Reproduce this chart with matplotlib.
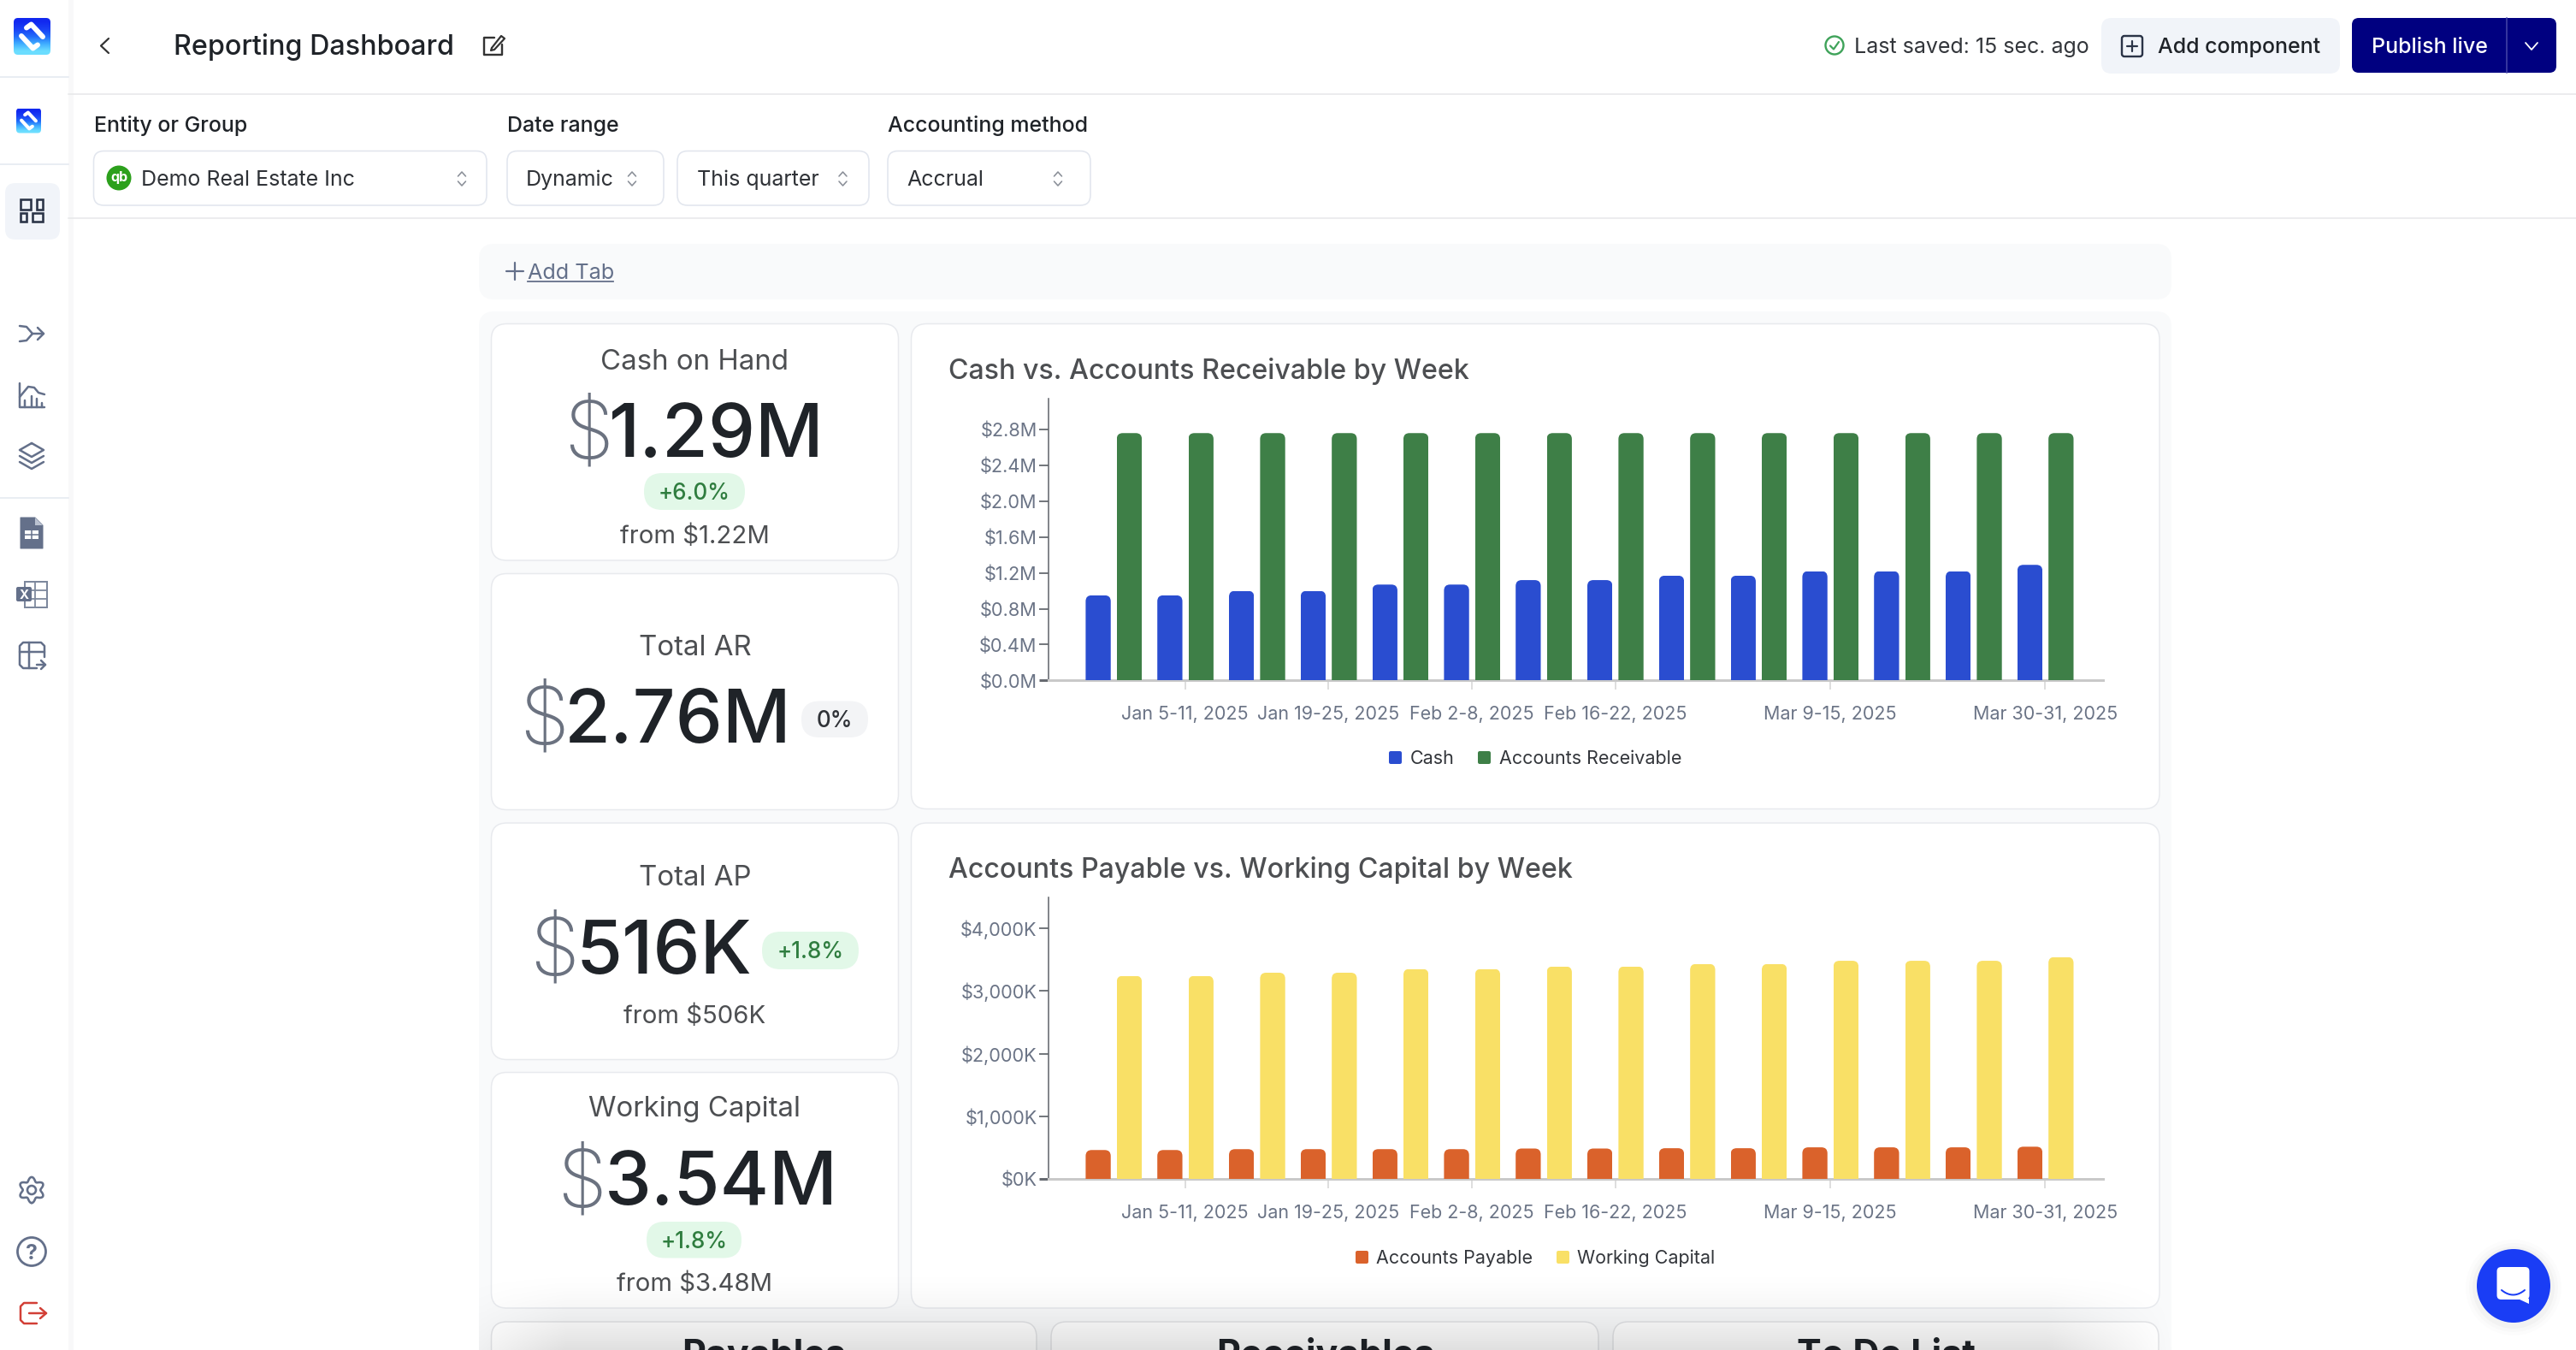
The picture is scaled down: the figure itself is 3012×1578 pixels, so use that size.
import numpy as np
import matplotlib
matplotlib.use('Agg')
import matplotlib.pyplot as plt
from matplotlib.lines import Line2D
from matplotlib.markers import MarkerStyle
from matplotlib.patches import Circle, FancyBboxPatch, Polygon, Rectangle
from matplotlib.path import Path

plt.rcParams['font.family'] = ['Inter', 'DejaVu Sans']

W, H = 3012, 1578

# weeks of the quarter, only some of them get a label on the chart
weeks = ['Dec 29-Jan 4, 2025', 'Jan 5-11, 2025', 'Jan 12-18, 2025', 'Jan 19-25, 2025',
         'Jan 26-Feb 1, 2025', 'Feb 2-8, 2025', 'Feb 9-15, 2025', 'Feb 16-22, 2025',
         'Feb 23-Mar 1, 2025', 'Mar 2-8, 2025', 'Mar 9-15, 2025', 'Mar 16-22, 2025',
         'Mar 23-29, 2025', 'Mar 30-31, 2025']
labelled_weeks = [1, 3, 5, 7, 10, 13]

cash = [0.95, 0.95, 1.00, 1.00, 1.07, 1.07, 1.12, 1.12, 1.17, 1.17, 1.22, 1.22, 1.22, 1.29]
receivable = [2.76] * 14
payable = [463, 463, 477, 477, 477, 477, 487, 487, 492, 492, 506, 506, 506, 516]
working_capital = [3240, 3240, 3290, 3290, 3350, 3350, 3390, 3390, 3430, 3430, 3480, 3480, 3480, 3540]

top_ticks = [0, 0.4, 0.8, 1.2, 1.6, 2.0, 2.4, 2.8]
top_tick_labels = ['$0.0M', '$0.4M', '$0.8M', '$1.2M', '$1.6M', '$2.0M', '$2.4M', '$2.8M']
low_ticks = [0, 1000, 2000, 3000, 4000]
low_tick_labels = ['$0K', '$1,000K', '$2,000K', '$3,000K', '$4,000K']

GREY_TEXT = '#4d4f52'
DARK = '#1f2328'
SLATE = '#64708a'
LABEL = '#6b7486'
BORDER = '#e8eaee'
UI = 25

fig = plt.figure(figsize=(W / 100, H / 100), dpi=100, facecolor='white')
page = fig.add_axes([0, 0, 1, 1], zorder=0)
page.set_xlim(0, W)
page.set_ylim(H, 0)
page.axis('off')


def pt(px):
    return px * 0.72


def box(x0, y0, x1, y1, r=14, fc='white', ec='none', lw=1.5, z=1):
    p = FancyBboxPatch((x0 + r, y0 + r), x1 - x0 - 2 * r, y1 - y0 - 2 * r,
                       boxstyle=f'round,pad={r},rounding_size={r}',
                       fc=fc, ec=ec, lw=pt(lw), zorder=z)
    page.add_patch(p)
    return p


def txt(x, yc, s, size, color=DARK, ha='left', weight='normal', z=5):
    # yc is the middle of the capitals, so the baseline is worked out from the size
    return page.text(x, yc + 0.364 * size, s, fontsize=pt(size), color=color, ha=ha,
                     va='baseline', fontweight=weight, zorder=z)


def stroke(pts, color=SLATE, lw=2.5, z=6):
    xs, ys = zip(*pts)
    page.add_line(Line2D(xs, ys, color=color, lw=pt(lw), solid_capstyle='round',
                         solid_joinstyle='round', zorder=z))


def updown(x, y=208):
    stroke([(x - 4.5, y - 2), (x, y - 7), (x + 4.5, y - 2)], color='#8a8f98', lw=1.6)
    stroke([(x - 4.5, y + 4), (x, y + 9), (x + 4.5, y + 4)], color='#8a8f98', lw=1.6)


# ---- page frame ----
page.add_patch(Rectangle((80, 0), 6, H, fc='#f8f8f9', ec='none', zorder=1))
page.add_line(Line2D([80, W], [110, 110], color='#e6e7e9', lw=pt(1.5), zorder=1))
page.add_line(Line2D([80, W], [255, 255], color='#e6e7e9', lw=pt(1.5), zorder=1))
for yy in [90, 192, 581.5]:
    page.add_line(Line2D([0, 80], [yy, yy], color='#e3e8f0', lw=pt(1.5), zorder=1))


def logo(cx, cy, half, r):
    grad = np.array([[0.07, 0.16, 0.94], [0.10, 0.25, 0.96], [0.13, 0.42, 0.98],
                     [0.25, 0.68, 1.0], [0.42, 0.87, 1.0]])[:, None, :]
    im = page.imshow(grad, extent=(cx - half, cx + half, cy + half, cy - half),
                     aspect='auto', interpolation='bilinear', zorder=2)
    clip = box(cx - half, cy - half, cx + half, cy + half, r=r, fc='none')
    im.set_clip_path(clip)
    k = half / 21.5
    a = [(-6.5, -10), (-1, -14), (12.5, 0.5)]
    b = [(-12.5, -0.5), (1, 14), (6.5, 10)]
    stroke([(cx + k * u, cy + k * v) for u, v in a], color='white', lw=6 * k, z=3)
    stroke([(cx + k * u, cy + k * v) for u, v in b], color='white', lw=6 * k, z=3)


logo(37.5, 42.5, 21.5, 5)
logo(33.5, 141, 14.5, 4)

# sidebar icons
box(6, 214, 70, 280, r=12, fc='#f1f4f9')
for x0, y0, x1, y1 in [(24, 233, 36, 245), (43, 233, 50, 245), (24, 249, 31, 259), (38, 249, 50, 259)]:
    page.add_patch(Rectangle((x0, y0), x1 - x0, y1 - y0, fc='none', ec='#2b3447', lw=pt(2.6), zorder=6))

stroke([(23, 381), (31, 382), (38, 390), (51, 390)])
stroke([(23, 399), (31, 398), (38, 390)])
stroke([(44, 383), (51, 390), (44, 397)])
stroke([(23, 448), (23, 476), (52, 476)])
stroke([(23, 464), (33, 452), (40, 453), (45, 459), (52, 461)])
for bx, by in [(29.5, 468), (37, 463), (43, 466), (49, 471)]:
    stroke([(bx, by), (bx, 476)])
stroke([(37, 518), (51, 526), (37, 534), (23, 526), (37, 518)])
stroke([(23, 533), (37, 541), (51, 533)])
stroke([(23, 540), (37, 548), (51, 540)])

page.add_patch(Polygon([(24, 605), (41, 605), (50, 614), (50, 641), (24, 641)], fc=SLATE, ec=SLATE,
                       lw=pt(1), joinstyle='round', zorder=6))
page.add_patch(Polygon([(41, 605), (50, 614), (41, 614)], fc='#b9c1d0', ec='none', zorder=7))
page.add_patch(Rectangle((29, 620), 16, 10, fc='white', ec='none', zorder=7))
stroke([(37, 620), (37, 630)], lw=1.5, z=8)
stroke([(29, 625), (45, 625)], lw=1.5, z=8)

page.add_patch(Rectangle((29, 680), 26, 30, fc='none', ec='#7d889d', lw=pt(2), zorder=6))
for gy in [690, 700]:
    stroke([(29, gy), (55, gy)], color='#7d889d', lw=1.8)
for gx in [41]:
    stroke([(gx, 680), (gx, 710)], color='#7d889d', lw=1.8)
box(19, 686, 37, 703, r=2, fc=SLATE, z=7)
txt(28, 694.5, 'X', 15, color='white', ha='center', weight='bold', z=8)

stroke([(43, 781), (27, 781), (23, 777), (23, 755), (27, 751), (48, 751), (52, 755), (52, 768)])
stroke([(34, 751), (34, 781)])
stroke([(23, 762), (52, 762)])
stroke([(43, 777), (53, 777)])
stroke([(48, 772), (53, 777), (48, 782)])

t = np.linspace(0, 2 * np.pi, 121)
gear_r = 12.7 + 2.4 * np.cos(6 * t)
stroke(list(zip(37 + gear_r * np.sin(t), 1391 + gear_r * np.cos(t))), lw=2.6)
page.add_patch(Circle((37, 1391), 5, fc='none', ec=SLATE, lw=pt(2.6), zorder=6))
page.add_patch(Circle((37, 1463), 16.5, fc='none', ec=SLATE, lw=pt(2.8), zorder=6))
txt(37, 1463, '?', 25, color=SLATE, ha='center', weight='bold')
RED = '#d23f36'
stroke([(43, 1523), (28, 1523), (24, 1527), (24, 1543), (28, 1547), (43, 1547)], color=RED)
stroke([(34, 1535), (54, 1535)], color=RED)
stroke([(47, 1529), (54, 1535), (47, 1541)], color=RED)

# ---- top bar ----
stroke([(127, 45), (118, 53.5), (127, 62)], color='#333', lw=2.2)
txt(203, 52, 'Reporting Dashboard', 32.3, color=DARK, weight='medium')
stroke([(578, 44), (566, 44), (566, 64), (587, 64), (587, 52)], color='#333', lw=2.4)
stroke([(575, 56), (586, 42), (590, 45), (578, 58), (574, 59), (575, 56)], color='#333', lw=2.2)

page.add_patch(Circle((2145, 53), 10.5, fc='none', ec='#3fa35a', lw=pt(2.4), zorder=6))
stroke([(2140, 53.5), (2144, 57.5), (2150, 49)], color='#3fa35a', lw=2.2)
txt(2168, 53, 'Last saved: 15 sec. ago', UI, color='#33363b')
box(2457, 21, 2736, 86, r=12, fc='#f1f4f9')
box(2481, 42, 2505, 66, r=3, fc='none', ec='#2b3447', lw=2.4, z=6)
stroke([(2487, 54), (2499, 54)], color='#2b3447', lw=2.2)
stroke([(2493, 48), (2493, 60)], color='#2b3447', lw=2.2)
txt(2523, 53, 'Add component', 25, color=DARK, weight='medium')
box(2750, 21, 2989, 85, r=8, fc='#000080')
page.add_line(Line2D([2931, 2931], [21, 85], color='#4747a8', lw=pt(1.5), zorder=3))
txt(2773, 53, 'Publish live', 25, color='white', weight='medium')
stroke([(2953, 50), (2960, 58), (2967, 50)], color='white', lw=1.8)

# ---- filters ----
txt(110, 145, 'Entity or Group', UI, color=DARK, weight='medium')
txt(593, 145, 'Date range', UI, color=DARK, weight='medium')
txt(1038, 145, 'Accounting method', UI, color=DARK, weight='medium')
for x0, x1 in [(109.5, 569), (593, 776), (792, 1016), (1038, 1275)]:
    box(x0, 176.5, x1, 240, r=12, fc='white', ec='#e2e6ee', lw=1.6)
page.add_patch(Circle((139, 208), 14.5, fc='#2ca01c', ec='none', zorder=5))
txt(139, 206.5, 'qb', 16, color='white', ha='center', weight='bold', z=6)
txt(165, 208, 'Demo Real Estate Inc', UI, color='#2f3237')
txt(615, 208, 'Dynamic', UI, color='#2f3237')
txt(815, 208, 'This quarter', UI, color='#2f3237')
txt(1060, 208, 'Accrual', UI, color='#2f3237')
for ux in [540, 739, 985.5, 1237]:
    updown(ux)

# ---- dashboard panel ----
box(560, 285, 2539, 350, r=18, fc='#f9fafb')
stroke([(592, 317), (612, 317)], color=SLATE, lw=2.2)
stroke([(602, 307), (602, 327)], color=SLATE, lw=2.2)
txt(617, 317, 'Add Tab', 25.2, color=SLATE)
page.add_line(Line2D([617, 717], [328.5, 328.5], color=SLATE, lw=pt(1.8), zorder=6))
box(560, 364, 2539, 1640, r=18, fc='#f9fafb')

for y0, y1 in [(378.5, 655), (670.5, 946.5), (962, 1238.5), (1253.5, 1529)]:
    box(574.5, y0, 1050.5, y1, r=18, ec=BORDER)
box(1065.5, 378.5, 2525, 945.5, r=18, ec=BORDER)
box(1065.5, 962, 2525, 1529, r=18, ec=BORDER)
for x0, x1 in [(574.5, 1212), (1229, 1869), (1886, 2524)]:
    box(x0, 1545, x1, 1640, r=18, ec='#e3e4e7')


def kpi(title, ty, dollar_x, digit_x, value, vy, pill=None, sub=None, sy=None):
    txt(812.5, ty, title, 33, color=GREY_TEXT, ha='center')
    txt(dollar_x, vy, '$', 93, color='#6b7280', weight='light')
    txt(digit_x, vy, value, 87.5, color=DARK, weight='medium')
    if pill:
        label, x0, y0, x1, y1, bg, fg = pill
        box(x0, y0, x1, y1, r=(y1 - y0) / 2 - 0.1, fc=bg)
        txt((x0 + x1) / 2, (y0 + y1) / 2, label, 26, color=fg, ha='center', weight='medium')
    if sub:
        txt(812.5, sy, sub, 29.3, color=GREY_TEXT, ha='center')


GREEN_BG, GREEN_FG = '#e2f8e8', '#2f7d3f'
kpi('Cash on Hand', 419.5, 659, 712, '1.29M', 502,
    ('+6.0%', 753, 553, 871, 596, GREEN_BG, GREEN_FG), 'from $1.22M', 624.5)
kpi('Total AR', 753.5, 607, 660, '2.76M', 836,
    ('0%', 937, 819.5, 1015, 862, '#f3f4f6', '#2f3237'))
kpi('Total AP', 1023, 619, 674, '516K', 1106,
    ('+1.8%', 891, 1089, 1004, 1133, GREEN_BG, GREEN_FG), 'from $506K', 1185.5)
kpi('Working Capital', 1293, 651, 707, '3.54M', 1376.5,
    ('+1.8%', 756, 1428, 867, 1470.5, GREEN_BG, GREEN_FG), 'from $3.48M', 1498.5)

txt(1109, 431.5, 'Cash vs. Accounts Receivable by Week', 32.2, color=GREY_TEXT, weight='medium')
txt(1109, 1014.5, 'Accounts Payable vs. Working Capital by Week', 32.2, color=GREY_TEXT, weight='medium')

for bx, label in [(893, 'Payables'), (1549.5, 'Receivables'), (2205, 'To Do List')]:
    page.text(bx, 1597, label, fontsize=pt(43), color=DARK, ha='center', va='baseline',
              fontweight='bold', zorder=5)

# fade over the bottom of the page
ny, nx = 98, 400
fade_y = np.clip((np.arange(ny) / (ny - 1)) ** 1.7, 0, 1) * 0.125
fade_x = np.clip(np.minimum((np.arange(nx) + 10) / 30, (nx - np.arange(nx)) / 30), 0, 1)
fade = np.zeros((ny, nx, 4))
fade[..., 3] = np.outer(fade_y, fade_x)
page.imshow(fade, extent=(560, 2540, H, 1480), aspect='auto', interpolation='bilinear', zorder=7)

# chat button
for rr, aa in [(56, 0.012), (52, 0.016), (48, 0.022)]:
    page.add_patch(Circle((2939, 1505), rr, fc='black', ec='none', alpha=aa, zorder=4))
page.add_patch(Circle((2939, 1503), 43, fc='#1a3df5', ec='none', zorder=5))
box(2919.5, 1481, 2957.5, 1519, r=5, fc='white', z=6)
page.add_patch(Polygon([(2944, 1518), (2957.5, 1518), (2957.5, 1524)], fc='white', ec='none', zorder=6))
smile_x = np.linspace(2925, 2952, 15)
stroke(list(zip(smile_x, 1513.5 - 5.5 * ((smile_x - 2938.5) / 13.5) ** 2)), color='#1a3df5', lw=2, z=7)

page.set_xlim(0, W)
page.set_ylim(H, 0)


# ---- charts ----
STEP = 83.8
FIRST = 1302.0
AX_L, AX_R = 1226.0, 2459.0


def round_tops(bars, ax, ppu_y, radius=7):
    # the bars stay plain ax.bar rectangles, a clip path rounds their top corners
    rx = radius / STEP
    ry = radius / ppu_y
    for r in bars:
        x0, x1 = r.get_x(), r.get_x() + r.get_width()
        y1 = r.get_height()
        verts = [(x0, 0), (x0, y1 - ry), (x0, y1), (x0 + rx, y1), (x1 - rx, y1), (x1, y1),
                 (x1, y1 - ry), (x1, 0), (x0, 0)]
        codes = [Path.MOVETO, Path.LINETO, Path.CURVE3, Path.CURVE3, Path.LINETO,
                 Path.CURVE3, Path.CURVE3, Path.LINETO, Path.CLOSEPOLY]
        r.set_clip_path(Path(verts, codes), ax.transData)


def bar_chart(top, base, y_max, left, right, left_color, right_color, ticks, tick_labels,
              names, legend_y):
    ax = fig.add_axes([AX_L / W, 1 - base / H, (AX_R - AX_L) / W, (base - top) / H], zorder=2)
    ax.patch.set_alpha(0)
    x = np.arange(len(weeks))
    b1 = ax.bar(x - 0.214, left, 0.35, color=left_color, zorder=3, label=names[0])
    b2 = ax.bar(x + 0.22, right, 0.35, color=right_color, zorder=3, label=names[1])
    ax.set_xlim((AX_L - FIRST) / STEP, (AX_R - FIRST) / STEP)
    ax.set_ylim(0, y_max)
    ppu_y = (base - top) / y_max
    round_tops(b1, ax, ppu_y)
    round_tops(b2, ax, ppu_y)

    for side in ['top', 'right']:
        ax.spines[side].set_visible(False)
    ax.spines['left'].set_color('#666a70')
    ax.spines['left'].set_linewidth(pt(1.6))
    ax.spines['bottom'].set_color('#c9c9c9')
    ax.spines['bottom'].set_linewidth(pt(3))

    ax.set_yticks(ticks)
    ax.set_yticklabels(tick_labels)
    ax.set_xticks(labelled_weeks)
    ax.set_xticklabels([weeks[i] for i in labelled_weeks])
    ax.tick_params(axis='y', length=pt(11), width=pt(1.8), color='#666a70', pad=pt(2.5),
                   labelsize=pt(21.7), labelcolor=LABEL)
    ax.tick_params(axis='x', length=pt(10.5), width=pt(1.5), color='#d4d4d4', pad=pt(19),
                   labelsize=pt(21.5), labelcolor=LABEL)
    ax.get_yticklines()[0].set_color('#c9c9c9')
    ax.get_yticklines()[0].set_markeredgewidth(pt(3))

    handles = [Line2D([], [], ls='none', marker=MarkerStyle('s', joinstyle='round'), ms=pt(11),
                      mew=pt(4), color=c) for c in (left_color, right_color)]
    ax.legend(handles, names, loc='center', bbox_to_anchor=(1795, legend_y),
              bbox_transform=page.transData, ncol=2, frameon=False, borderpad=0, borderaxespad=0,
              handlelength=0.67, handletextpad=0.47, columnspacing=1.29,
              fontsize=pt(21.5), labelcolor='#33363b')
    return ax


bar_chart(465.7, 795.4, 3.147, cash, receivable, '#2a4dd0', '#3e7f47', top_ticks, top_tick_labels,
          ['Cash', 'Accounts Receivable'], 886.5)
bar_chart(1049.3, 1378.2, 4486, payable, working_capital, '#da622b', '#f9e066', low_ticks, low_tick_labels,
          ['Accounts Payable', 'Working Capital'], 1470.5)

plt.savefig('out.png', dpi=100)
plt.close()
